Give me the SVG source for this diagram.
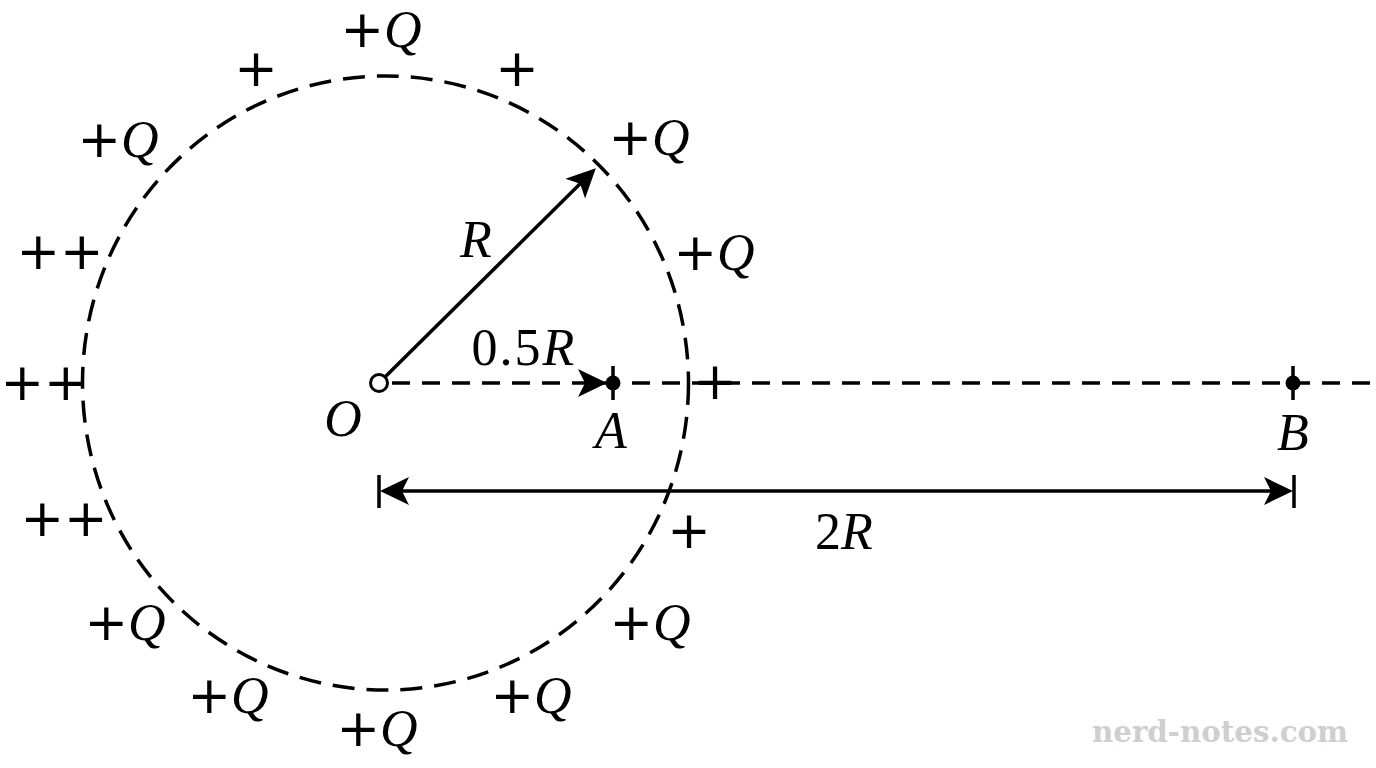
<svg xmlns="http://www.w3.org/2000/svg" width="1376" height="768" viewBox="0 0 1376 768">
<style>
.lbl{font-family:"Liberation Serif","DejaVu Serif",serif;font-size:52px;fill:#000}
.it{font-style:italic}
.pl{font-family:"DejaVu Sans","Liberation Sans",sans-serif;font-style:normal}
.ln{stroke:#000;stroke-width:3.5;fill:none}
.dash{stroke:#000;stroke-width:3.5;fill:none;stroke-dasharray:18 12}
.wm{font-family:"DejaVu Serif","Liberation Serif",serif;font-size:30px;fill:#cfcfcf;font-weight:bold}
</style>
<defs>
<marker id="ah" markerUnits="userSpaceOnUse" viewBox="-32 -16 38 32" markerWidth="38" markerHeight="32" refX="0" refY="0" orient="auto" overflow="visible">
<path d="M4,0 L-25,-14 L-18,0 L-25,14 Z" fill="#000"/>
</marker>
</defs>
<rect width="1376" height="768" fill="#fff"/>

<g id="sphere">
<ellipse cx="385.5" cy="383" rx="303" ry="307" fill="none" stroke="#000" stroke-width="3.5" stroke-dasharray="22 12"/>
</g>

<g id="connectors">
<path class="dash" d="M392,383 L1376,383"/>
<path class="ln" d="M385,377 L593,171" marker-end="url(#ah)"/>
<path class="ln" d="M588,383 L603,383" marker-end="url(#ah)"/>
<path class="ln" d="M400,491 L384,491" marker-end="url(#ah)"/>
<path class="ln" d="M384,491 L1289,491" marker-end="url(#ah)"/>
<path class="ln" d="M379,475 L379,508 M1294,475 L1294,508"/>
</g>

<g id="O">
<circle cx="379" cy="383" r="8.5" fill="#fff" stroke="#000" stroke-width="3"/>
<text class="lbl it" x="343" y="436" text-anchor="middle">O</text>
</g>
<g id="A">
<path class="ln" d="M613,366 L613,400"/>
<circle cx="613" cy="383" r="7.5" fill="#000"/>
<text class="lbl it" x="611" y="448" text-anchor="middle">A</text>
</g>
<g id="B">
<path class="ln" d="M1293,366 L1293,400"/>
<circle cx="1293" cy="383" r="7.5" fill="#000"/>
<text class="lbl it" x="1293" y="450" text-anchor="middle">B</text>
</g>

<g id="dim-labels">
<text class="lbl it" x="476" y="257" text-anchor="middle">R</text>
<text class="lbl" x="524" y="365" text-anchor="middle" letter-spacing="2">0.5<tspan class="it">R</tspan></text>
<text class="lbl" x="844" y="549" text-anchor="middle">2<tspan class="it">R</tspan></text>
</g>

<g id="charges">
<text class="lbl" x="381" y="47" text-anchor="middle"><tspan class="pl">+</tspan><tspan class="it">Q</tspan></text>
<text class="lbl pl" x="256" y="86" text-anchor="middle">+</text>
<text class="lbl pl" x="517" y="86" text-anchor="middle">+</text>
<text class="lbl" x="649" y="155" text-anchor="middle"><tspan class="pl">+</tspan><tspan class="it">Q</tspan></text>
<text class="lbl" x="118" y="157" text-anchor="middle"><tspan class="pl">+</tspan><tspan class="it">Q</tspan></text>
<text class="lbl pl" x="60" y="269" text-anchor="middle">++</text>
<text class="lbl" x="714" y="270" text-anchor="middle"><tspan class="pl">+</tspan><tspan class="it">Q</tspan></text>
<text class="lbl pl" x="44" y="400" text-anchor="middle">++</text>
<text class="lbl pl" x="715" y="399" text-anchor="middle">+</text>
<text class="lbl pl" x="64" y="536" text-anchor="middle">++</text>
<text class="lbl pl" x="689" y="548" text-anchor="middle">+</text>
<text class="lbl" x="125" y="640" text-anchor="middle"><tspan class="pl">+</tspan><tspan class="it">Q</tspan></text>
<text class="lbl" x="650" y="640" text-anchor="middle"><tspan class="pl">+</tspan><tspan class="it">Q</tspan></text>
<text class="lbl" x="228" y="713" text-anchor="middle"><tspan class="pl">+</tspan><tspan class="it">Q</tspan></text>
<text class="lbl" x="531" y="713" text-anchor="middle"><tspan class="pl">+</tspan><tspan class="it">Q</tspan></text>
<text class="lbl" x="377" y="746" text-anchor="middle"><tspan class="pl">+</tspan><tspan class="it">Q</tspan></text>
</g>

<text class="wm" x="1092" y="742" textLength="256" lengthAdjust="spacingAndGlyphs">nerd-notes.com</text>
</svg>
